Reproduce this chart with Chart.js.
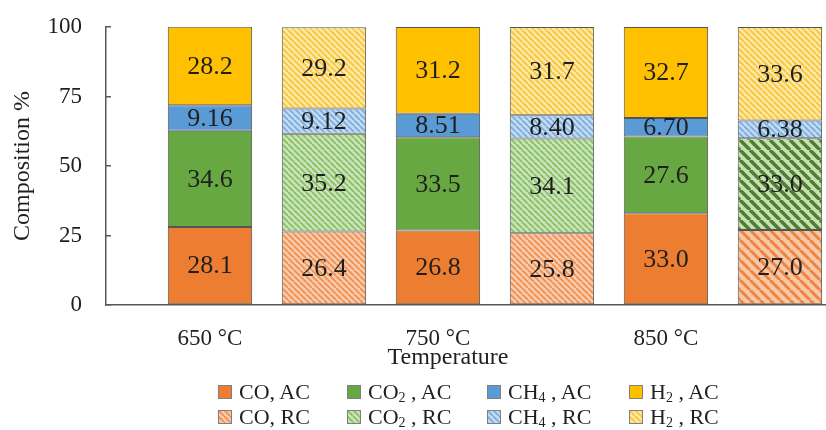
<!DOCTYPE html>
<html>
<head>
<meta charset="utf-8">
<script src="https://cdn.jsdelivr.net/npm/chart.js@4.4.1/dist/chart.umd.min.js"></script>
<style>
body { margin: 0; background: #fff; }
#wrap { position: relative; width: 826px; height: 430px; }
#legend {
  position: absolute; left: 218px; top: 379px;
  display: grid; grid-template-columns: 129px 140px 142px 110px;
  font-family: "Liberation Serif", "Times New Roman", serif; font-size: 22px; color: #1f1f1f;
}
.item { display: flex; align-items: center; height: 25px; white-space: nowrap; }
.item canvas { width: 14px; height: 14px; margin-right: 7px; }
.item sub { font-size: 14px; vertical-align: -3px; line-height: 0; }
</style>
</head>
<body>
<div id="wrap">
  <canvas id="chart" width="826" height="430"></canvas>
  <div id="legend"></div>
</div>
<script>
// datos
const temps = ['650 °C', '750 °C', '850 °C'];
const yTicks = [0, 25, 50, 75, 100];
// AC = barras solidas, RC = barras rayadas
const coAC  = [28.1, 26.8, 33.0];
const co2AC = [34.6, 33.5, 27.6];
const ch4AC = [9.16, 8.51, 6.70];
const h2AC  = [28.2, 31.2, 32.7];
const coRC  = [26.4, 25.8, 27.0];
const co2RC = [35.2, 34.1, 33.0];
const ch4RC = [9.12, 8.40, 6.38];
const h2RC  = [29.2, 31.7, 33.6];
const labelsAC = ['CO, AC', 'CO2 , AC', 'CH4 , AC', 'H2 , AC'];
const labelsRC = ['CO, RC', 'CO2 , RC', 'CH4 , RC', 'H2 , RC'];

const serif = '"Liberation Serif", "Times New Roman", serif';
const textColor = '#1f1f1f';
const axisColor = '#595959';

const ctx = document.getElementById('chart').getContext('2d');

// rayado diagonal "\"
const hatch = (bg, fg, size, lw) => {
  const c = document.createElement('canvas');
  c.width = size; c.height = size;
  const g = c.getContext('2d');
  g.fillStyle = bg;
  g.fillRect(0, 0, size, size);
  g.strokeStyle = fg;
  g.lineWidth = lw;
  g.beginPath();
  for (let k = -1; k <= 1; k++) {
    g.moveTo(k * size, 0);
    g.lineTo(k * size + size, size);
  }
  g.stroke();
  return ctx.createPattern(c, 'repeat');
};

const solid = ['#ED7D31', '#68A842', '#5B9BD5', '#FFC000'];
const orangeThin = hatch('#F9CDAE', '#F09459', 6, 2);
const greenThin = hatch('#CDE5BD', '#8DC26A', 6, 2);
const blueThin = hatch('#C7DDF2', '#7EB1E0', 6, 2);
const yellowThin = hatch('#FFE9A6', '#F7C843', 6, 2);
const hatched = [
  [orangeThin, orangeThin, hatch('#F8C7A5', '#EE8440', 10, 3)],
  [greenThin, greenThin, hatch('#C6E0B4', '#4E7F31', 10, 3.5)],
  [blueThin, blueThin, blueThin],
  [yellowThin, yellowThin, yellowThin]
];

const pts = (vals, off) => vals.map((v, i) => ({ x: i * 2 + off, y: v }));

const datasets = [];
[coAC, co2AC, ch4AC, h2AC].forEach((vals, g) => {
  datasets.push({ label: labelsAC[g], data: pts(vals, 0), backgroundColor: solid[g] });
});
[coRC, co2RC, ch4RC, h2RC].forEach((vals, g) => {
  datasets.push({ label: labelsRC[g], data: pts(vals, 1), backgroundColor: hatched[g] });
});

// numeros dentro de cada segmento
const valueLabels = {
  id: 'valueLabels',
  afterDatasetsDraw(chart) {
    const c = chart.ctx;
    c.save();
    c.font = '26px ' + serif;
    c.fillStyle = textColor;
    c.textAlign = 'center';
    c.textBaseline = 'middle';
    chart.data.datasets.forEach((ds, di) => {
      chart.getDatasetMeta(di).data.forEach((bar, i) => {
        const p = bar.getCenterPoint();
        c.fillText(ds.data[i].y.toPrecision(3), p.x, p.y + 1);
      });
    });
    c.restore();
  }
};

const chart = new Chart(ctx, {
  type: 'bar',
  data: { datasets: datasets },
  plugins: [valueLabels],
  options: {
    responsive: false,
    animation: false,
    layout: { padding: { top: 27, bottom: 54, left: 0, right: 0 } },
    datasets: {
      bar: {
        barPercentage: 0.74,
        categoryPercentage: 1,
        borderWidth: 1,
        borderColor: '#555555',
        borderSkipped: false
      }
    },
    plugins: { legend: { display: false }, tooltip: { enabled: false } },
    scales: {
      x: {
        type: 'linear',
        stacked: true,
        offset: false,
        min: -0.912,
        max: 5.404,
        afterBuildTicks: s => { s.ticks = temps.map((t, i) => ({ value: i * 2 })); },
        afterFit: s => { s.height = 71; },
        ticks: {
          callback: (v, i) => temps[i],
          autoSkip: false, maxRotation: 0, padding: 20,
          font: { family: serif, size: 23 }, color: textColor
        },
        grid: { display: false, drawTicks: false, offset: false },
        border: { color: axisColor, width: 1.5 },
        title: {
          display: true, text: 'Temperature' + '\u00a0'.repeat(6),
          font: { family: serif, size: 24 }, color: textColor,
          padding: { top: 0, bottom: 4 }
        }
      },
      y: {
        stacked: true,
        min: 0,
        max: 100,
        afterBuildTicks: s => { s.ticks = yTicks.map(v => ({ value: v })); },
        afterFit: s => { s.width = 106; s.paddingTop = 0; s.paddingBottom = 0; },
        ticks: { padding: 29, font: { family: serif, size: 23 }, color: textColor },
        grid: { drawOnChartArea: false, tickLength: -5, color: axisColor, lineWidth: 1.5 },
        border: { color: axisColor, width: 1.5 },
        title: {
          display: true, text: 'Composition %',
          font: { family: serif, size: 24 }, color: textColor,
          padding: { top: 8, bottom: 0 }
        }
      }
    }
  }
});

// leyenda en html (subindices)
const legendBox = document.getElementById('legend');
chart.data.datasets.forEach(ds => {
  const item = document.createElement('div');
  item.className = 'item';
  const sw = document.createElement('canvas');
  sw.width = 14; sw.height = 14;
  const g = sw.getContext('2d');
  g.fillStyle = Array.isArray(ds.backgroundColor) ? ds.backgroundColor[0] : ds.backgroundColor;
  g.fillRect(0, 0, 14, 14);
  g.strokeStyle = '#7f7f7f';
  g.lineWidth = 1;
  g.strokeRect(0.5, 0.5, 13, 13);
  const txt = document.createElement('span');
  txt.innerHTML = ds.label.replace(/(\d)/g, '<sub>$1</sub>');
  item.appendChild(sw);
  item.appendChild(txt);
  legendBox.appendChild(item);
});
</script>
</body>
</html>
